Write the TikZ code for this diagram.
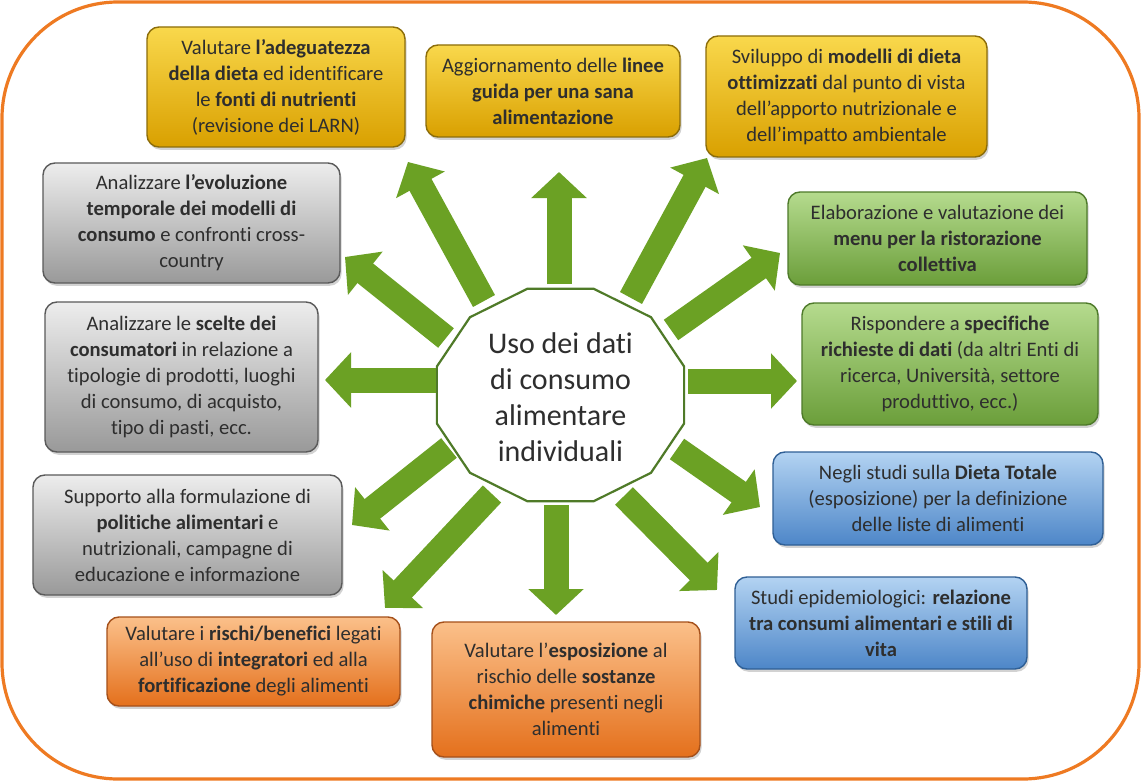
\documentclass[tikz,border=0pt]{standalone}
\usepackage{fontspec}
\setmainfont{Carlito}[Ligatures={TeX,NoCommon}]
\usepackage{tikz}
\usepackage{xcolor}
\usetikzlibrary{arrows.meta, shadows}
\definecolor{framecol}{HTML}{EE7A22}
\definecolor{raygreen}{HTML}{6BA124}
\definecolor{hubline}{HTML}{4F7A28}
\definecolor{textgray}{HTML}{2E2E2E}
\definecolor{yellowtop}{HTML}{F9D84C}
\definecolor{yellowmid}{HTML}{F2BF1E}
\definecolor{yellowbot}{HTML}{D9A000}
\definecolor{yellowline}{HTML}{8C6D0A}
\definecolor{graytop}{HTML}{EDEDED}
\definecolor{graymid}{HTML}{C6C6C6}
\definecolor{graybot}{HTML}{999999}
\definecolor{grayline}{HTML}{5A5A5A}
\definecolor{greentop}{HTML}{B5DB8E}
\definecolor{greenmid}{HTML}{8CC25C}
\definecolor{greenbot}{HTML}{6B9E3A}
\definecolor{greenline}{HTML}{4E7A2A}
\definecolor{bluetop}{HTML}{B3D3F2}
\definecolor{bluemid}{HTML}{7FB0E6}
\definecolor{bluebot}{HTML}{4D86C8}
\definecolor{blueline}{HTML}{2F5F95}
\definecolor{orangetop}{HTML}{FBC08A}
\definecolor{orangemid}{HTML}{F59A4A}
\definecolor{orangebot}{HTML}{E4701C}
\definecolor{orangeline}{HTML}{A5501A}

\begin{document}
\begin{tikzpicture}[
    x=0.5pt, y=-0.5pt,
    box/.style={rectangle, rounded corners=6pt, draw, line width=0.7pt, align=center, inner sep=2pt, text=textgray, font=\fontsize{10.3}{13}\selectfont, drop shadow={opacity=0.35, shadow xshift=0.8pt, shadow yshift=-1.4pt}},
    yellowbox/.style={box, draw=yellowline, top color=yellowtop, middle color=yellowmid, bottom color=yellowbot},
    graybox/.style={box, draw=grayline, top color=graytop, middle color=graymid, bottom color=graybot},
    greenbox/.style={box, draw=greenline, top color=greentop, middle color=greenmid, bottom color=greenbot},
    bluebox/.style={box, draw=blueline, top color=bluetop, middle color=bluemid, bottom color=bluebot},
    orangebox/.style={box, draw=orangeline, top color=orangetop, middle color=orangemid, bottom color=orangebot},
    ray/.style={line width=12.5pt, draw=raygreen, -{Triangle[length=13pt, width=27pt]}},
    hubtext/.style={align=center, text=textgray, font=\fontsize{15}{18}\selectfont}
]
\useasboundingbox (0,0) rectangle (1141,781);
\draw[framecol, line width=1.6pt, fill=white, rounded corners=58pt] (2,2) rectangle (1139,779);

% central topic
\node[hubtext] (hub) at (560.5,397) {Uso dei dati\\di consumo\\alimentare\\individuali};
\draw[hubline, line width=1.1pt] plot[samples at={15,45,...,345}, variable=\a] ({560.5+128*cos(\a)},{395+110*sin(\a)}) -- cycle;

% uses of the data
\node[yellowbox, minimum width=129pt, minimum height=60pt] (adequacy) at (276,87) {Valutare \textbf{l’adeguatezza}\\\textbf{della dieta} ed identificare\\le \textbf{fonti di nutrienti}\\(revisione dei LARN)};
\node[yellowbox, minimum width=127pt, minimum height=46pt] (guidelines) at (553,91) {Aggiornamento delle \textbf{linee}\\\textbf{guida per una sana}\\\textbf{alimentazione}};
\node[yellowbox, minimum width=140.5pt, minimum height=60.5pt] (dietmodels) at (846.5,96.5) {Sviluppo di \textbf{modelli di dieta}\\\textbf{ottimizzati} dal punto di vista\\dell’apporto nutrizionale e\\dell’impatto ambientale};
\node[graybox, minimum width=148.5pt, minimum height=60pt] (trends) at (191.5,223) {Analizzare \textbf{l’evoluzione}\\\textbf{temporale dei modelli di}\\\textbf{consumo} e confronti cross-\\country};
\node[greenbox, minimum width=149.5pt, minimum height=46.5pt] (catering) at (937.5,238.5) {Elaborazione e valutazione dei\\\textbf{menu per la ristorazione}\\\textbf{collettiva}};
\node[graybox, minimum width=136.5pt, minimum height=75pt] (choices) at (181.5,377) {Analizzare le \textbf{scelte dei}\\\textbf{consumatori} in relazione a\\tipologie di prodotti, luoghi\\di consumo, di acquisto,\\tipo di pasti, ecc.};
\node[greenbox, minimum width=148pt, minimum height=61pt] (requests) at (950,364) {Rispondere a \textbf{specifiche}\\\textbf{richieste di dati} (da altri Enti di\\ricerca, Università, settore\\produttivo, ecc.)};
\node[graybox, minimum width=154.5pt, minimum height=60pt] (policies) at (187.5,535) {Supporto alla formulazione di\\\textbf{politiche alimentari} e\\nutrizionali, campagne di\\educazione e informazione};
\node[bluebox, minimum width=165pt, minimum height=46.5pt] (totaldiet) at (938,498.5) {Negli studi sulla \textbf{Dieta Totale}\\(esposizione) per la definizione\\delle liste di alimenti};
\node[bluebox, minimum width=146pt, minimum height=46pt] (epidemio) at (881,623) {Studi epidemiologici: \textbf{relazione}\\\textbf{tra consumi alimentari e stili di}\\\textbf{vita}};
\node[orangebox, minimum width=146.5pt, minimum height=44.5pt] (supplements) at (253.5,661.5) {Valutare i \textbf{rischi/benefici} legati\\all’uso di \textbf{integratori} ed alla\\\textbf{fortificazione} degli alimenti};
\node[orangebox, minimum width=134pt, minimum height=67.5pt] (exposure) at (566,689.5) {Valutare l’\textbf{esposizione} al\\rischio delle \textbf{sostanze}\\\textbf{chimiche} presenti negli\\alimenti};

% ray ends
\coordinate (adequacy-from) at (484,301);   \coordinate (adequacy-to) at (408,162);
\coordinate (guidelines-from) at (559,284); \coordinate (guidelines-to) at (559,172);
\coordinate (dietmodels-from) at (631,298); \coordinate (dietmodels-to) at (707,158);
\coordinate (trends-from) at (446,338);     \coordinate (trends-to) at (345,257);
\coordinate (catering-from) at (671,330);   \coordinate (catering-to) at (780,253);
\coordinate (choices-from) at (436,380);    \coordinate (choices-to) at (325,380);
\coordinate (requests-from) at (688,381);   \coordinate (requests-to) at (797,381);
\coordinate (policies-from) at (449,448);   \coordinate (policies-to) at (352,525);
\coordinate (totaldiet-from) at (677,449);  \coordinate (totaldiet-to) at (760,507);
\coordinate (supplements-from) at (492,494); \coordinate (supplements-to) at (385,608);
\coordinate (epidemio-from) at (624,496);   \coordinate (epidemio-to) at (717,590);
\coordinate (exposure-from) at (556,505);   \coordinate (exposure-to) at (556,615);

\draw[ray] (adequacy-from) -- (adequacy-to);
\draw[ray] (guidelines-from) -- (guidelines-to);
\draw[ray] (dietmodels-from) -- (dietmodels-to);
\draw[ray] (trends-from) -- (trends-to);
\draw[ray] (catering-from) -- (catering-to);
\draw[ray] (choices-from) -- (choices-to);
\draw[ray] (requests-from) -- (requests-to);
\draw[ray] (policies-from) -- (policies-to);
\draw[ray] (totaldiet-from) -- (totaldiet-to);
\draw[ray] (supplements-from) -- (supplements-to);
\draw[ray] (epidemio-from) -- (epidemio-to);
\draw[ray] (exposure-from) -- (exposure-to);
\end{tikzpicture}
\end{document}
